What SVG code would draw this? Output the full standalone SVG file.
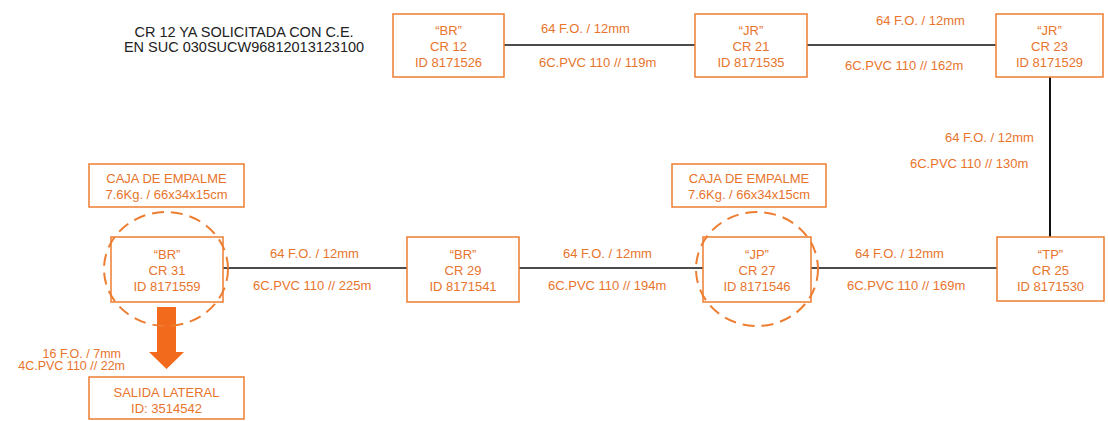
<svg xmlns="http://www.w3.org/2000/svg" width="1108" height="421" viewBox="0 0 1108 421">
<style>
.box{fill:#fff;stroke:#ED7D31;stroke-width:1.5}
.t{font-family:"Liberation Sans",Arial,sans-serif;font-size:13px;fill:#E8742C;text-anchor:middle}
.s{font-family:"Liberation Sans",Arial,sans-serif;font-size:12.5px;fill:#E8742C;text-anchor:end}
.lbl{font-family:"Liberation Sans",Arial,sans-serif;font-size:13px;fill:#E8742C}
.note{font-family:"Liberation Sans",Arial,sans-serif;font-size:14.5px;fill:#222;text-anchor:middle}
.ln{stroke:#111;stroke-width:1.5;fill:none}
.dc{fill:none;stroke:#ED7D31;stroke-width:2;stroke-dasharray:12 7}
</style>
<rect width="1108" height="421" fill="#fff"/>
<g id="note">
<text class="note" x="244" y="37">CR 12 YA SOLICITADA CON C.E.</text>
<text class="note" x="244" y="52">EN SUC 030SUCW96812013123100</text>
</g>
<g id="connectors">
<line class="ln" x1="504" y1="45" x2="695" y2="45"/>
<line class="ln" x1="807" y1="45" x2="996" y2="45"/>
<line class="ln" x1="1050" y1="77" x2="1050" y2="237" style="stroke-width:2"/>
<line class="ln" x1="223" y1="268" x2="407" y2="268"/>
<line class="ln" x1="519" y1="268" x2="703" y2="268"/>
<line class="ln" x1="811" y1="268" x2="997" y2="268"/>
<path d="M157 307 H176 V352 H184 L166.5 369 L149 352 H157 Z" fill="#F26A1B"/>
<text class="lbl" x="541" y="32.5">64 F.O. / 12mm</text>
<text class="lbl" x="539" y="66.5">6C.PVC 110 // 119m</text>
<text class="lbl" x="876" y="24.5">64 F.O. / 12mm</text>
<text class="lbl" x="845" y="69.5">6C.PVC 110 // 162m</text>
<text class="lbl" x="945" y="141.5">64 F.O. / 12mm</text>
<text class="lbl" x="910" y="167.5">6C.PVC 110 // 130m</text>
<text class="lbl" x="270" y="257.5">64 F.O. / 12mm</text>
<text class="lbl" x="253" y="289.5">6C.PVC 110 // 225m</text>
<text class="lbl" x="563" y="257.5">64 F.O. / 12mm</text>
<text class="lbl" x="548" y="289.5">6C.PVC 110 // 194m</text>
<text class="lbl" x="855" y="257.5">64 F.O. / 12mm</text>
<text class="lbl" x="847" y="289.5">6C.PVC 110 // 169m</text>
<text class="s" x="121" y="357.5">16 F.O. / 7mm</text>
<text class="s" x="125" y="369.5">4C.PVC 110 // 22m</text>
</g>
<g id="cr12">
<rect class="box" x="393" y="14" width="111" height="63"/>
<text class="t" x="448.5" y="34.5">“BR”</text>
<text class="t" x="448.5" y="50.5">CR 12</text>
<text class="t" x="448.5" y="66.5">ID 8171526</text>
</g>
<g id="cr21">
<rect class="box" x="695" y="14" width="112" height="63"/>
<text class="t" x="751" y="34.5">“JR”</text>
<text class="t" x="751" y="50.5">CR 21</text>
<text class="t" x="751" y="66.5">ID 8171535</text>
</g>
<g id="cr23">
<rect class="box" x="996" y="14" width="107" height="63"/>
<text class="t" x="1049.5" y="34.5">“JR”</text>
<text class="t" x="1049.5" y="50.5">CR 23</text>
<text class="t" x="1049.5" y="66.5">ID 8171529</text>
</g>
<g id="caja1">
<rect class="box" x="89" y="164" width="155" height="43"/>
<text class="t" x="166.5" y="182.5">CAJA DE EMPALME</text>
<text class="t" x="166.5" y="198.5">7.6Kg. / 66x34x15cm</text>
</g>
<g id="cr31">
<rect class="box" x="111" y="237" width="112" height="65"/>
<text class="t" x="167" y="259">“BR”</text>
<text class="t" x="167" y="275">CR 31</text>
<text class="t" x="167" y="291">ID 8171559</text>
<ellipse class="dc" cx="166" cy="269" rx="62" ry="57"/>
</g>
<g id="cr29">
<rect class="box" x="407" y="237" width="112" height="65"/>
<text class="t" x="463" y="259">“BR”</text>
<text class="t" x="463" y="275">CR 29</text>
<text class="t" x="463" y="291">ID 8171541</text>
</g>
<g id="caja2">
<rect class="box" x="672" y="164" width="154" height="43"/>
<text class="t" x="749" y="182.5">CAJA DE EMPALME</text>
<text class="t" x="749" y="198.5">7.6Kg. / 66x34x15cm</text>
</g>
<g id="cr27">
<rect class="box" x="703" y="237" width="108" height="65"/>
<text class="t" x="757" y="259">“JP”</text>
<text class="t" x="757" y="275">CR 27</text>
<text class="t" x="757" y="291">ID 8171546</text>
<ellipse class="dc" cx="757" cy="269" rx="61" ry="57"/>
</g>
<g id="cr25">
<rect class="box" x="997" y="237" width="107" height="64"/>
<text class="t" x="1050.5" y="259">“TP”</text>
<text class="t" x="1050.5" y="275">CR 25</text>
<text class="t" x="1050.5" y="291">ID 8171530</text>
</g>
<g id="salida">
<rect class="box" x="89" y="377" width="155" height="42"/>
<text class="t" x="166.5" y="396.5">SALIDA LATERAL</text>
<text class="t" x="166.5" y="412.5">ID: 3514542</text>
</g>
</svg>
